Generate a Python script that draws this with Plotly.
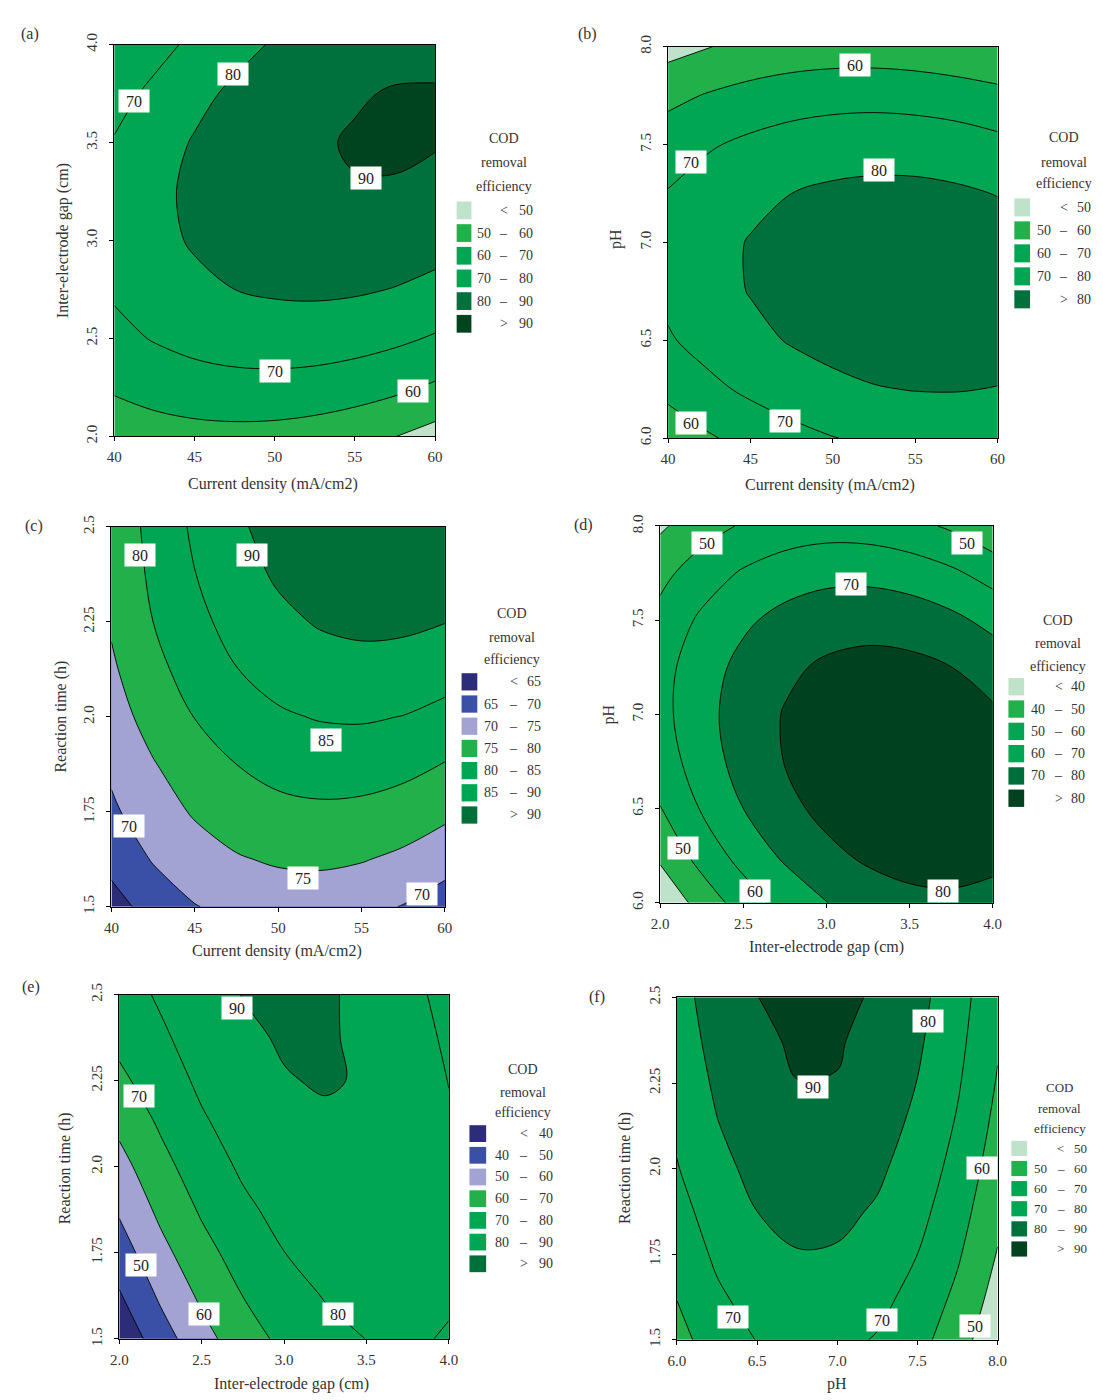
import plotly.graph_objects as go

# The page adds an 8 px body margin; the figure is drawn 8 px up/left of the
# reference pixel positions so that it lands on them in the browser window.
OFF = 8
W, H = 1103 - OFF, 1400 - OFF
FONT = "Liberation Serif"
TXT = "#333333"

# ---------------- colours ----------------
MINT = "#bfe3ca"
G1 = "#22b04b"
G2 = "#00a651"
D1 = "#00703c"
D2 = "#00441f"
NAVY = "#2d2c78"
BLUE = "#3a50a6"
LAV = "#a2a2d3"

# ---------------- data: (a) current density vs inter-electrode gap ----------------
a_x = [40, 42.5, 45, 47.5, 50, 52.5, 55, 57.5, 60]
a_y = [2.0, 2.25, 2.5, 2.75, 3.0, 3.25, 3.5, 3.75, 4.0]
a_z = [
    [53.3, 55.5, 56.7, 57.1, 56.7, 55.4, 53.2, 50.2, 46.3],
    [61.4, 64.1, 65.9, 66.8, 66.9, 66.2, 64.6, 62.1, 58.7],
    [67.4, 70.6, 73.0, 74.5, 75.1, 74.9, 73.8, 71.9, 69.1],
    [71.3, 75.1, 78.0, 80.0, 81.2, 81.6, 81.1, 79.7, 77.5],
    [73.1, 77.5, 80.9, 83.6, 85.3, 86.2, 86.2, 85.4, 83.7],
    [72.9, 77.8, 81.8, 85.0, 87.3, 88.8, 89.6, 89.5, 88.0],
    [70.7, 76.1, 80.7, 84.4, 87.2, 89.2, 90.6, 90.9, 90.5],
    [66.3, 72.3, 77.5, 81.7, 85.1, 87.7, 89.4, 90.5, 90.5],
    [61.0, 66.5, 72.2, 77.0, 80.9, 84.0, 86.3, 87.7, 88.2],
]
a_levels = [50, 60, 70, 80, 90]
a_legend = [("", "<", "50"), ("50", "\u2013", "60"), ("60", "\u2013", "70"),
            ("70", "\u2013", "80"), ("80", "\u2013", "90"), ("", ">", "90")]
a_labels = [("80", 47.4, 3.852), ("70", 41.2, 3.71), ("90", 55.7, 3.318),
            ("70", 50.0, 2.333), ("60", 58.65, 2.232)]

# ---------------- data: (b) current density vs pH ----------------
b_x = [40, 42.5, 45, 47.5, 50, 52.5, 55, 57.5, 60]
b_y = [6.0, 6.25, 6.5, 6.75, 7.0, 7.25, 7.5, 7.75, 8.0]
b_z = [
    [53.8, 59.0, 63.3, 66.9, 69.7, 71.6, 72.8, 73.1, 72.6],
    [62.8, 67.7, 71.9, 75.2, 77.7, 79.5, 80.3, 80.4, 79.7],
    [69.0, 73.7, 77.6, 80.7, 83.0, 84.4, 85.1, 84.9, 84.0],
    [72.3, 76.8, 80.4, 83.3, 85.3, 86.6, 87.0, 86.6, 85.4],
    [72.8, 77.1, 80.5, 83.1, 84.9, 85.9, 86.1, 85.4, 84.0],
    [70.5, 74.5, 77.7, 80.0, 81.6, 82.3, 82.3, 81.4, 79.7],
    [65.4, 69.1, 72.0, 74.2, 75.5, 76.0, 75.7, 74.6, 72.6],
    [57.4, 60.8, 63.5, 65.4, 66.5, 66.8, 66.2, 64.9, 62.7],
    [46.5, 49.8, 52.2, 53.9, 54.7, 54.7, 53.9, 52.3, 51.0],
]
b_levels = [50, 60, 70, 80]
b_legend = [("", "<", "50"), ("50", "\u2013", "60"), ("60", "\u2013", "70"),
            ("70", "\u2013", "80"), ("", ">", "80")]
b_labels = [("60", 51.37, 7.908), ("70", 41.39, 7.412), ("80", 52.82, 7.37),
            ("60", 41.39, 6.08), ("70", 47.12, 6.086)]

# ---------------- data: (c) current density vs reaction time ----------------
c_x = [40, 42.5, 45, 47.5, 50, 52.5, 55, 57.5, 60]
c_y = [1.5, 1.625, 1.75, 1.875, 2.0, 2.125, 2.25, 2.375, 2.5]
c_z = [
    [62.5, 67.5, 69.8, 71.3, 72.1, 72.1, 71.3, 69.8, 67.5],
    [67.0, 70.3, 72.8, 74.6, 75.6, 75.9, 75.3, 74.0, 72.0],
    [69.2, 72.7, 75.5, 77.5, 78.8, 79.2, 78.9, 77.9, 76.1],
    [70.9, 74.7, 77.8, 80.0, 81.5, 82.2, 82.2, 81.4, 79.8],
    [72.8, 76.9, 80.1, 82.6, 84.4, 85.3, 85.5, 84.9, 83.6],
    [74.3, 78.6, 82.1, 84.9, 86.8, 88.0, 88.5, 88.1, 87.0],
    [75.5, 80.0, 83.7, 86.7, 88.9, 90.4, 91.0, 90.9, 90.1],
    [76.2, 80.9, 84.9, 88.2, 90.6, 92.3, 93.2, 93.3, 92.7],
    [76.5, 81.5, 85.8, 89.2, 91.9, 93.8, 95.0, 95.4, 95.0],
]
c_levels = [65, 70, 75, 80, 85, 90]
c_legend = [("", "<", "65"), ("65", "\u2013", "70"), ("70", "\u2013", "75"),
            ("75", "\u2013", "80"), ("80", "\u2013", "85"), ("85", "\u2013", "90"),
            ("", ">", "90")]
c_labels = [("80", 41.74, 2.427), ("90", 48.44, 2.427), ("85", 52.88, 1.938),
            ("70", 41.06, 1.713), ("75", 51.48, 1.576), ("70", 58.6, 1.533)]

# ---------------- data: (d) inter-electrode gap vs pH ----------------
d_x = [2.0, 2.25, 2.5, 2.75, 3.0, 3.25, 3.5, 3.75, 4.0]
d_y = [6.0, 6.25, 6.5, 6.75, 7.0, 7.25, 7.5, 7.75, 8.0]
d_z = [
    [31.6, 44.0, 54.6, 63.2, 69.8, 74.6, 77.4, 78.2, 77.2],
    [42.0, 53.8, 63.7, 71.6, 77.6, 81.7, 83.8, 84.1, 82.3],
    [49.7, 60.8, 70.0, 77.3, 82.7, 86.1, 87.6, 87.2, 84.8],
    [54.6, 65.1, 73.7, 80.3, 85.0, 87.8, 88.6, 87.5, 84.5],
    [56.9, 66.7, 74.6, 80.6, 84.6, 86.8, 86.9, 85.2, 81.5],
    [56.4, 65.6, 72.8, 78.1, 81.5, 83.0, 82.5, 80.1, 75.8],
    [53.2, 61.7, 68.3, 73.0, 75.7, 76.5, 75.4, 72.3, 67.3],
    [47.2, 55.1, 61.1, 65.1, 67.2, 67.3, 65.5, 61.8, 56.2],
    [38.5, 45.8, 51.1, 54.4, 55.9, 55.4, 52.9, 48.6, 42.3],
]
d_levels = [40, 50, 60, 70, 80]
d_legend = [("", "<", "40"), ("40", "\u2013", "50"), ("50", "\u2013", "60"),
            ("60", "\u2013", "70"), ("70", "\u2013", "80"), ("", ">", "80")]
d_labels = [("50", 2.283, 7.912), ("50", 3.848, 7.912), ("70", 3.145, 7.693),
            ("50", 2.135, 6.289), ("60", 2.57, 6.061), ("80", 3.699, 6.061)]

# ---------------- data: (e) inter-electrode gap vs reaction time ----------------
e_x = [2.0, 2.25, 2.5, 2.75, 3.0, 3.25, 3.5, 3.75, 4.0]
e_y = [1.5, 1.625, 1.75, 1.875, 2.0, 2.125, 2.25, 2.375, 2.5]
e_z = [
    [32.3, 45.5, 56.5, 65.5, 72.4, 77.3, 80.1, 80.9, 79.5],
    [39.1, 51.5, 61.8, 70.1, 76.4, 80.5, 82.7, 82.7, 80.7],
    [45.3, 57.1, 66.7, 74.3, 79.9, 83.4, 84.8, 84.1, 81.4],
    [51.2, 62.2, 71.2, 78.1, 82.9, 85.7, 86.4, 85.1, 81.7],
    [56.6, 66.9, 75.2, 81.4, 85.5, 87.6, 87.6, 85.6, 81.5],
    [62.3, 71.2, 78.7, 84.3, 87.7, 88.9, 88.4, 85.7, 80.9],
    [68.0, 75.0, 81.9, 86.7, 89.6, 90.6, 89.4, 85.3, 79.8],
    [72.5, 78.4, 84.5, 88.7, 90.7, 90.8, 88.6, 84.5, 78.3],
    [75.5, 81.3, 86.8, 90.2, 91.6, 91.0, 88.1, 83.3, 76.4],
]
e_levels = [40, 50, 60, 70, 80, 90]
e_legend = [("", "<", "40"), ("40", "\u2013", "50"), ("50", "\u2013", "60"),
            ("60", "\u2013", "70"), ("70", "\u2013", "80"), ("80", "\u2013", "90"),
            ("", ">", "90")]
e_labels = [("90", 2.712, 2.46), ("70", 2.119, 2.206), ("50", 2.131, 1.714),
            ("60", 2.513, 1.571), ("80", 3.328, 1.571)]

# ---------------- data: (f) pH vs reaction time ----------------
f_x = [6.0, 6.25, 6.5, 6.75, 7.0, 7.25, 7.5, 7.75, 8.0]
f_y = [1.5, 1.625, 1.75, 1.875, 2.0, 2.125, 2.25, 2.375, 2.5]
f_z = [
    [56.8, 65.0, 70.3, 72.8, 72.5, 69.3, 63.3, 54.4, 42.7],
    [60.3, 68.5, 73.8, 76.3, 76.0, 72.8, 66.8, 57.9, 46.3],
    [63.6, 71.7, 77.1, 79.6, 79.2, 76.1, 70.0, 61.2, 49.5],
    [66.5, 74.7, 80.0, 82.5, 82.1, 79.0, 73.0, 64.1, 52.4],
    [69.5, 77.3, 82.6, 85.1, 84.8, 81.6, 75.6, 66.7, 55.0],
    [71.6, 79.6, 84.9, 87.4, 87.0, 83.9, 77.9, 69.0, 57.3],
    [73.4, 81.5, 86.9, 89.9, 89.7, 85.8, 79.8, 71.0, 59.3],
    [75.0, 83.2, 88.5, 91.0, 90.7, 87.5, 81.5, 72.6, 61.0],
    [76.4, 84.6, 89.9, 92.4, 92.1, 88.9, 82.9, 74.0, 62.3],
]
f_levels = [50, 60, 70, 80, 90]
f_legend = [("", "<", "50"), ("50", "\u2013", "60"), ("60", "\u2013", "70"),
            ("70", "\u2013", "80"), ("80", "\u2013", "90"), ("", ">", "90")]
f_labels = [("80", 7.564, 2.43), ("90", 6.849, 2.237), ("60", 7.902, 2.001),
            ("70", 6.348, 1.567), ("70", 7.278, 1.558), ("50", 7.861, 1.539)]

# ---------------- tick labels ----------------
cd_ticks = [40, 45, 50, 55, 60]
cd_text = ["40", "45", "50", "55", "60"]
gap_ticks = [2.0, 2.5, 3.0, 3.5, 4.0]
gap_text = ["2.0", "2.5", "3.0", "3.5", "4.0"]
ph_ticks = [6.0, 6.5, 7.0, 7.5, 8.0]
ph_text = ["6.0", "6.5", "7.0", "7.5", "8.0"]
t_ticks = [1.5, 1.75, 2.0, 2.25, 2.5]
t_text = ["1.5", "1.75", "2.0", "2.25", "2.5"]

CD_T = "Current density (mA/cm2)"
GAP_T = "Inter-electrode gap (cm)"
PH_T = "pH"
T_T = "Reaction time (h)"

# ---------------- panel layout (reference pixel geometry) ----------------
PANELS = [
    dict(tag="(a)", x=a_x, y=a_y, z=a_z, levels=a_levels, colors=[MINT, G1, G2, G2, D1, D2],
         legend=a_legend, labels=a_labels, xt=(cd_ticks, cd_text), yt=(gap_ticks, gap_text),
         xtitle=CD_T, ytitle=GAP_T, dom=(107, 433, 33, 430), xtp=(268, 478), ytp=(55, 232),
         tagp=(21, 22), leg=dict(cx=503, ty=(128, 152, 177), sw=(455, 470), r0=201, st=23.0,
                                 cols=(483, 503, 525), fs=14)),
    dict(tag="(b)", x=b_x, y=b_y, z=b_z, levels=b_levels, colors=[MINT, G1, G2, G2, D1],
         legend=b_legend, labels=b_labels, xt=(cd_ticks, cd_text), yt=(ph_ticks, ph_text),
         xtitle=CD_T, ytitle=PH_T, dom=(670, 1005, 35, 432), xtp=(835, 479), ytp=(617, 230),
         tagp=(588, 22), leg=dict(cx=1072, ty=(127, 152, 174), sw=(1022, 1038), r0=198, st=23.3,
                                  cols=(1052, 1072, 1093), fs=14)),
    dict(tag="(c)", x=c_x, y=c_y, z=c_z, levels=c_levels, colors=[NAVY, BLUE, LAV, G1, G2, G2, "#007038"],
         legend=c_legend, labels=c_labels, xt=(cd_ticks, cd_text), yt=(t_ticks, t_text),
         xtitle=CD_T, ytitle=T_T, dom=(104, 443, 522, 907), xtp=(272, 952), ytp=(53, 714),
         tagp=(25, 521), leg=dict(cx=511, ty=(610, 634, 656), sw=(460, 476), r0=679, st=22.5,
                                  cols=(490, 513, 534), fs=14)),
    dict(tag="(d)", x=d_x, y=d_y, z=d_z, levels=d_levels, colors=[MINT, G1, G2, G2, "#006e3a", "#00411f"],
         legend=d_legend, labels=d_labels, xt=(gap_ticks, gap_text), yt=(ph_ticks, ph_text),
         xtitle=GAP_T, ytitle=PH_T, dom=(662, 1000, 521, 903), xtp=(831, 948), ytp=(610, 712),
         tagp=(584, 520), leg=dict(cx=1066, ty=(617, 640, 663), sw=(1016, 1032), r0=684, st=22.6,
                                   cols=(1046, 1067, 1087), fs=14)),
    dict(tag="(e)", x=e_x, y=e_y, z=e_z, levels=e_levels, colors=[NAVY, BLUE, LAV, G1, G2, G2, "#00703a"],
         legend=e_legend, labels=e_labels, xt=(gap_ticks, gap_text), yt=(t_ticks, t_text),
         xtitle=GAP_T, ytitle=T_T, dom=(112, 447, 996, 1345), xtp=(287, 1391), ytp=(57, 1172),
         tagp=(22, 988), leg=dict(cx=522, ty=(1072, 1095, 1116), sw=(468, 485), r0=1137, st=22.0,
                                  cols=(501, 523, 546), fs=14)),
    dict(tag="(f)", x=f_x, y=f_y, z=f_z, levels=f_levels, colors=[MINT, G1, G2, G2, D1, "#00421f"],
         legend=f_legend, labels=f_labels, xt=(ph_ticks, ph_text), yt=(t_ticks, t_text),
         xtitle=PH_T, ytitle=T_T, dom=(679, 1005, 999, 1346), xtp=(842, 1391), ytp=(626, 1172),
         tagp=(598, 999), leg=dict(cx=1068, ty=(1090, 1112, 1132), sw=(1019, 1035), r0=1152, st=20.4,
                                   cols=(1049, 1069, 1089), fs=13)),
]

SM = 1.0

fig = go.Figure()
shapes = []
annotations = []
layout = {}


def px(x):
    return (x - OFF) / W


def py(y):
    return 1 - (y - OFF) / H


def txt(text, x, y, size=15, angle=0, xanchor="center"):
    annotations.append(dict(text=text, x=px(x), y=py(y), xref="paper", yref="paper",
                            showarrow=False, xanchor=xanchor, yanchor="middle", textangle=angle,
                            font=dict(family=FONT, size=size, color=TXT)))


for i, P in enumerate(PANELS, start=1):
    sx = "" if i == 1 else str(i)
    xa, ya = "x" + sx, "y" + sx
    x0p, x1p, y0p, y1p = P["dom"]
    xs, ys, zs = P["x"], P["y"], P["z"]

    # lowest band as background rectangle
    shapes.append(dict(type="rect", xref=xa, yref=ya, x0=xs[0], x1=xs[-1], y0=ys[0], y1=ys[-1],
                       fillcolor=P["colors"][0], line=dict(width=0), layer="below"))
    # one filled layer per level
    for lev, col in zip(P["levels"], P["colors"][1:]):
        fig.add_trace(go.Contour(
            x=xs, y=ys, z=zs, xaxis=xa, yaxis=ya, autocontour=False,
            contours=dict(start=lev, end=lev, size=10, coloring="fill", showlines=False),
            colorscale=[[0, "rgba(0,0,0,0)"], [0.75, "rgba(0,0,0,0)"], [0.75, col], [1, col]],
            showscale=False, line=dict(width=0, smoothing=SM), hoverinfo="skip"))
    # contour lines
    lv = P["levels"]
    fig.add_trace(go.Contour(
        x=xs, y=ys, z=zs, xaxis=xa, yaxis=ya, autocontour=False,
        contours=dict(start=lv[0], end=lv[-1], size=lv[1] - lv[0], coloring="none"),
        line=dict(color="black", width=0.9, smoothing=SM), showscale=False, hoverinfo="skip"))

    axis_common = dict(ticks="outside", ticklen=4, tickcolor="black", showline=True,
                       linecolor="black", linewidth=1, mirror=True, showgrid=False,
                       zeroline=False, fixedrange=True,
                       tickfont=dict(family=FONT, size=15, color=TXT))
    layout["xaxis" + sx] = dict(domain=[px(x0p), px(x1p)], anchor=ya,
                                range=[xs[0], xs[-1]], tickvals=P["xt"][0], ticktext=P["xt"][1],
                                ticklabelstandoff=3, **axis_common)
    layout["yaxis" + sx] = dict(domain=[py(y1p), py(y0p)], anchor=xa,
                                range=[ys[0], ys[-1]], tickvals=P["yt"][0], ticktext=P["yt"][1],
                                tickangle=-90, ticklabelstandoff=6, **axis_common)

    # contour value labels
    for t, lx, ly in P["labels"]:
        annotations.append(dict(text=t, x=lx, y=ly, xref=xa, yref=ya, showarrow=False,
                                bgcolor="white", borderpad=2, width=26, height=18,
                                font=dict(family=FONT, size=16, color="#222222")))

    # axis titles and panel tag
    txt(P["xtitle"], *P["xtp"], size=16)
    txt(P["ytitle"], *P["ytp"], size=16, angle=-90)
    txt(P["tag"], *P["tagp"], size=16)

    # legend
    L = P["leg"]
    for k, ty in enumerate(L["ty"]):
        txt(["COD", "removal", "efficiency"][k], L["cx"], ty, size=L["fs"])
    hsw = (L["st"] - 5) / 2
    for k, (lt, sym, rt) in enumerate(P["legend"]):
        yc = L["r0"] + k * L["st"]
        shapes.append(dict(type="rect", xref="paper", yref="paper",
                           x0=px(L["sw"][0]), x1=px(L["sw"][1]),
                           y0=py(yc + hsw), y1=py(yc - hsw),
                           fillcolor=P["colors"][k], line=dict(width=0)))
        if lt:
            txt(lt, L["cols"][0], yc, size=L["fs"])
        txt(sym, L["cols"][1], yc, size=L["fs"])
        txt(rt, L["cols"][2], yc, size=L["fs"])

fig.update_layout(width=W, height=H, margin=dict(l=0, r=0, t=0, b=0),
                  paper_bgcolor="white", plot_bgcolor="white", showlegend=False,
                  shapes=shapes, annotations=annotations,
                  font=dict(family=FONT, color=TXT), **layout)

fig.write_html("out.html", config={"displayModeBar": False})
